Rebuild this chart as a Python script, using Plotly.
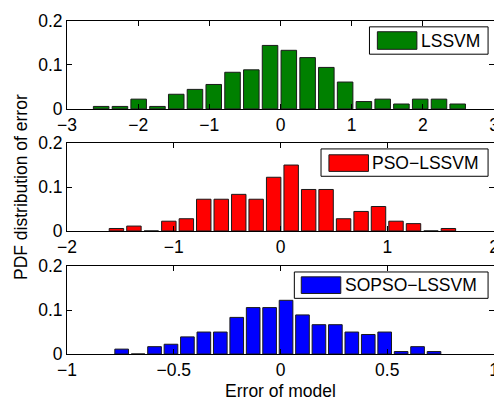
import plotly.graph_objects as go

# ---- data (PDF of model error, 20 bins each) ----
lssvm_x = [-2.520, -2.256, -1.993, -1.729, -1.465, -1.202, -0.938, -0.674, -0.410, -0.147,
           0.117, 0.381, 0.644, 0.908, 1.172, 1.436, 1.699, 1.963, 2.227, 2.490]
lssvm_pdf = [0.0056, 0.0056, 0.0222, 0.0056, 0.0333, 0.0444, 0.0556, 0.0833, 0.0889, 0.1444,
             0.1333, 0.1167, 0.0944, 0.0611, 0.0167, 0.0222, 0.0111, 0.0222, 0.0222, 0.0111]

pso_x = [-1.537, -1.373, -1.210, -1.046, -0.882, -0.719, -0.555, -0.391, -0.228, -0.064,
         0.100, 0.264, 0.427, 0.591, 0.755, 0.918, 1.082, 1.246, 1.410, 1.573]
pso_pdf = [0.0056, 0.0111, 0.0, 0.0222, 0.0278, 0.0722, 0.0722, 0.0833, 0.0722, 0.1222,
           0.15, 0.0944, 0.0944, 0.0278, 0.0444, 0.0556, 0.0222, 0.0167, 0.0, 0.0056]

sopso_x = [-0.744, -0.667, -0.590, -0.513, -0.436, -0.359, -0.282, -0.205, -0.128, -0.051,
           0.026, 0.103, 0.180, 0.257, 0.334, 0.411, 0.488, 0.565, 0.642, 0.719]
sopso_pdf = [0.0111, 0.0, 0.0167, 0.0222, 0.0389, 0.05, 0.05, 0.0833, 0.1056, 0.1056,
             0.1222, 0.0889, 0.0667, 0.0667, 0.05, 0.0444, 0.05, 0.0056, 0.0167, 0.0056]

names = ["LSSVM", "PSO\u2212LSSVM", "SOPSO\u2212LSSVM"]
colors = ["#008000", "#FF0000", "#0000FF"]
x_ranges = [[-3, 3], [-2, 2], [-1, 1]]
x_dticks = [1, 1, 0.5]
y_ticks = [0, 0.1, 0.2]
x_title = "Error of model"
y_title = "PDF distribution of error"

# ---- layout geometry (pixels, in window coordinates) ----
OFF = 8                      # default page body margin
WIN_W, WIN_H = 502, 401
W, H = WIN_W - OFF, WIN_H - OFF
AX_L, AX_R, AX_T, AX_B = 67, 499, 18, 359   # plot area in window pixels
L, R, T, B = AX_L - OFF, WIN_W - AX_R, AX_T - OFF, WIN_H - AX_B
PW, PH = AX_R - AX_L, AX_B - AX_T
panels_px = [(18, 108), (143, 233), (269, 359)]  # top, bottom window pixel rows

def px_x(px):
    return (px - AX_L) / PW

def px_y(py):
    return (AX_B - py) / PH

FONT = "Liberation Sans, Arial, Helvetica, sans-serif"
FS = 17.5

fig = go.Figure()
series = [(lssvm_x, lssvm_pdf), (pso_x, pso_pdf), (sopso_x, sopso_pdf)]
for i, (xs, ys) in enumerate(series):
    sfx = "" if i == 0 else str(i + 1)
    fig.add_trace(go.Bar(
        x=xs, y=ys, name=names[i], showlegend=False,
        marker=dict(color=colors[i], line=dict(color="#1a1a1a", width=1)),
        xaxis="x" + sfx, yaxis="y" + sfx,
    ))

layout = dict(
    width=W, height=H,
    margin=dict(l=L, r=R, t=T, b=B, pad=0),
    paper_bgcolor="white", plot_bgcolor="white",
    font=dict(family=FONT, size=FS, color="black"),
    bargap=0.17,
    showlegend=False,
    hovermode=False,
)

for i in range(3):
    sfx = "" if i == 0 else str(i + 1)
    top, bot = panels_px[i]
    axis_common = dict(showline=True, linecolor="black", linewidth=1, mirror="ticks",
                       ticks="inside", ticklen=5, tickcolor="black", tickwidth=1,
                       showgrid=False, zeroline=False, ticklabeloverflow="allow",
                       tickfont=dict(family=FONT, size=FS, color="black"))
    layout["xaxis" + sfx] = dict(axis_common, range=x_ranges[i], dtick=x_dticks[i], tick0=0,
                                 domain=[0, 1], anchor="y" + sfx)
    layout["yaxis" + sfx] = dict(axis_common, range=[0, 0.2], tickvals=y_ticks,
                                 ticktext=["0", "0.1", "0.2"],
                                 domain=[px_y(bot), px_y(top)], anchor="x" + sfx)

layout["xaxis3"]["title"] = dict(text=x_title, font=dict(family=FONT, size=FS), standoff=6)

fig.update_layout(**layout)

# y-axis title shared across panels
fig.add_annotation(text=y_title, textangle=-90, xref="paper", yref="paper",
                   x=px_x(20), y=px_y(188.5), showarrow=False,
                   font=dict(family=FONT, size=FS, color="black"),
                   xanchor="center", yanchor="middle")

# legend boxes (MATLAB-style) drawn per panel
legend_px = [
    # box (x0, y0, x1, y1), swatch (x0, y0, x1, y1), text x
    ((373, 24, 493, 52), (381, 29, 421, 47), 423),
    ((324, 149, 493, 177), (332, 155, 372, 172), 374),
    ((297, 275, 493, 302), (304, 280, 344, 297), 346),
]
for i, (box, sw, tx) in enumerate(legend_px):
    fig.add_shape(type="rect", xref="paper", yref="paper",
                  x0=px_x(box[0]), x1=px_x(box[2]), y0=px_y(box[3]), y1=px_y(box[1]),
                  line=dict(color="black", width=1), fillcolor="white", layer="above")
    fig.add_shape(type="rect", xref="paper", yref="paper",
                  x0=px_x(sw[0]), x1=px_x(sw[2]), y0=px_y(sw[3]), y1=px_y(sw[1]),
                  line=dict(color="#1a1a1a", width=1), fillcolor=colors[i], layer="above")
    fig.add_annotation(text=names[i], xref="paper", yref="paper",
                       x=px_x(tx), y=px_y((box[1] + box[3]) / 2), showarrow=False,
                       xanchor="left", yanchor="middle",
                       font=dict(family=FONT, size=FS, color="black"))

fig.write_html("out.html", config={"displayModeBar": False})
